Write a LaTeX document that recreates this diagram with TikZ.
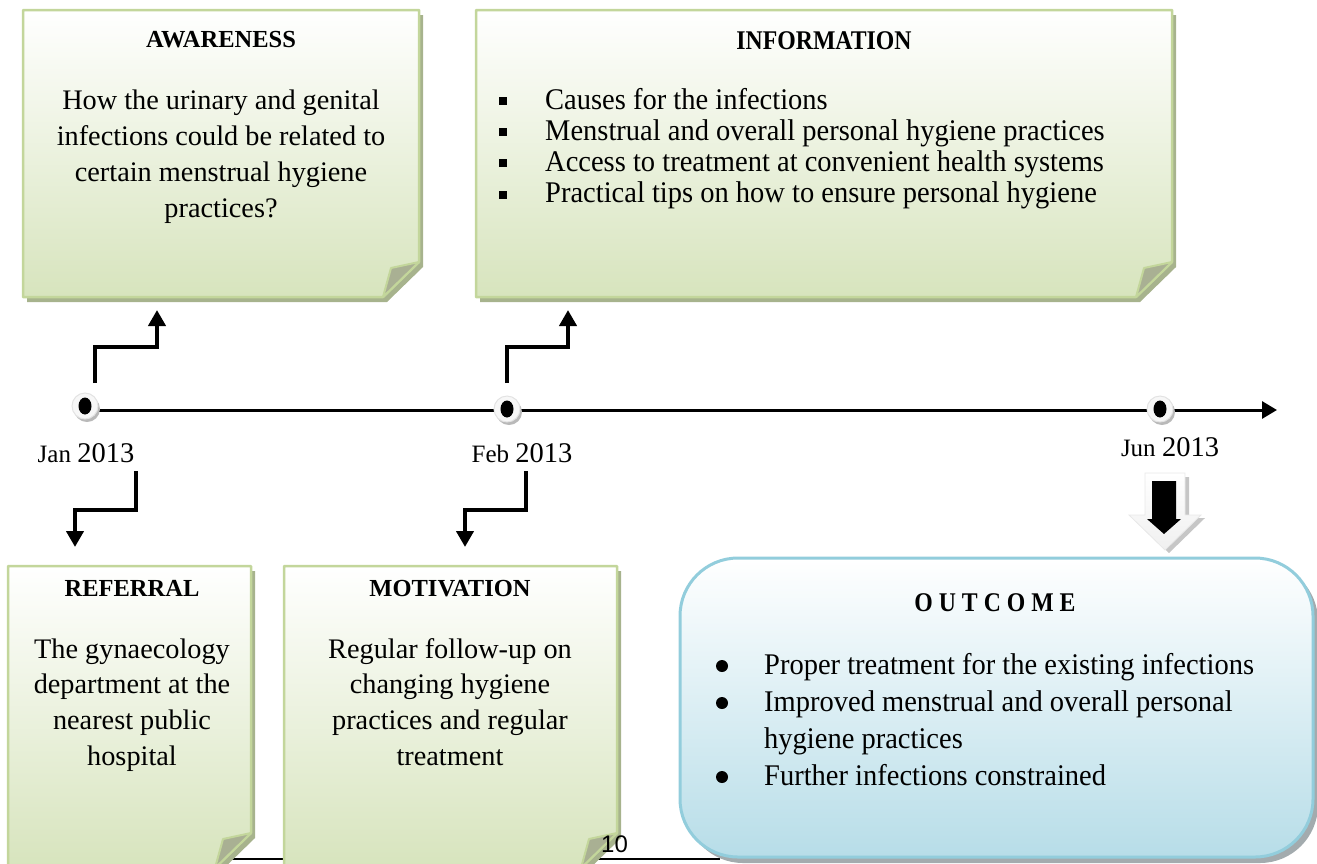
\documentclass[tikz,border=0pt]{standalone}
\usepackage{fontspec}
\setmainfont{Liberation Serif}
\newfontfamily\condfont{Liberation Serif}[FakeStretch=0.95]
\newfontfamily\condtitlefont{Liberation Serif}[FakeStretch=0.88]
\newfontfamily\pagenumfont{Liberation Sans}
\usetikzlibrary{arrows.meta}

\definecolor{notefill}{HTML}{D7E4BD}
\definecolor{noteborder}{HTML}{C3D69B}
\definecolor{noteshadow}{HTML}{A7B38D}
\definecolor{noteflap}{HTML}{A9B093}
\definecolor{outfill}{HTML}{B7DDE8}
\definecolor{outmid}{HTML}{E2F1F5}
\definecolor{outborder}{HTML}{92CDDC}
\definecolor{outshadow}{HTML}{A3ABAE}

\tikzset{
  titletext/.style={font=\bfseries\fontsize{24.5}{28}\selectfont, anchor=base, inner sep=0pt},
  condtitle/.style={font=\condtitlefont\bfseries\fontsize{27}{30}\selectfont, anchor=base, inner sep=0pt},
  bodytext/.style={anchor=base, inner sep=0pt},
  listtext/.style={anchor=base west, inner sep=0pt},
  datetext/.style={anchor=base, inner sep=0pt},
  bentarrow/.style={line width=4pt, -{Triangle[width=17pt,length=16pt]}},
  timearrow/.style={line width=3pt, -{Triangle[width=17pt,length=15pt]}},
  roundbullet/.style={fill=black},
}

% sticky note with a folded lower right corner: left, top, right, bottom
\newcommand\stickynote[4]{%
  \fill[noteshadow] (#1+4,#2+5) -- (#3+4,#2+5) -- (#3+4,#4-30) -- (#3-32,#4+5) -- (#1+4,#4+5) -- cycle;
  \path[draw=noteborder, line width=2.5pt, line join=round, top color=white, bottom color=notefill]
    (#1,#2) -- (#3,#2) -- (#3,#4-35) -- (#3-36,#4) -- (#1,#4) -- cycle;
  \filldraw[fill=noteflap, draw=noteborder, line width=2pt, line join=round]
    (#3,#4-35) -- (#3-28,#4-29) -- (#3-36,#4) -- cycle;
}

% milestone marker on the time line: name, x, y
\newcommand\timemark[3]{%
  \fill[gray!55] (#2+2,#3+3) circle[radius=13pt];
  \filldraw[fill=gray!6, draw=gray!22, line width=1pt] (#2,#3) circle[radius=13pt];
  \fill[black] (#2,#3) ellipse[x radius=6.5pt, y radius=8.5pt];
  \coordinate (#1) at (#2,#3);
}

\newcommand\sqbul{\makebox[46pt][l]{\rule[4pt]{8pt}{8pt}}}

\begin{document}
\begin{tikzpicture}[x=1pt,y=-1pt]
\useasboundingbox (0,0) rectangle (1317,863);
\clip (0,0) rectangle (1317,863);

% footer rule behind the notes
\coordinate (ruleL) at (200,859);
\coordinate (ruleR) at (720,859);
\draw[line width=1.5pt] (ruleL) -- (ruleR);

% notes
\stickynote{23}{10}{419}{297}
\stickynote{476}{10}{1172}{297}
\stickynote{8}{566}{251}{868}
\stickynote{284}{566}{617}{868}

% outcome panel
\fill[outshadow, rounded corners=58pt] (685,563) rectangle (1318,863);
\path[draw=outborder, line width=3pt, rounded corners=58pt, top color=white, middle color=outmid, bottom color=outfill]
  (680,558) rectangle (1313,857);

% time line
\coordinate (lineStart) at (85,410);
\coordinate (lineEnd) at (1277,410);
\draw[timearrow] (lineStart) -- (lineEnd);
\timemark{janMark}{85}{406}
\timemark{febMark}{507}{409}
\timemark{junMark}{1160}{409}

% bent arrows from the milestones to the notes
\coordinate (janUp) at (95,383);
\coordinate (awarenessIn) at (157,310);
\coordinate (janDown) at (136,471);
\coordinate (referralIn) at (75,547);
\coordinate (febUp) at (507,383);
\coordinate (informationIn) at (568,310);
\coordinate (febDown) at (526,471);
\coordinate (motivationIn) at (465,547);
\draw[bentarrow] (janUp) -- ++(0,-36) -| (awarenessIn);
\draw[bentarrow] (febUp) -- ++(0,-36) -| (informationIn);
\draw[bentarrow] (janDown) -- ++(0,39) -| (referralIn);
\draw[bentarrow] (febDown) -- ++(0,39) -| (motivationIn);

% block arrow towards the outcome
\fill[gray!45] (1149,477) -- (1189,477) -- (1189,518) -- (1205,518) -- (1169,553) -- (1133,518) -- (1149,518) -- cycle;
\path[draw=gray!18, line width=0.8pt, top color=white, bottom color=gray!12] (1145,473) -- (1185,473) -- (1185,515) -- (1201,515) -- (1165,550) -- (1129,515) -- (1145,515) -- cycle;
\fill[black] (1152,481) -- (1176,481) -- (1176,519) -- (1181,519) -- (1164,534) -- (1147,519) -- (1152,519) -- cycle;
\coordinate (outcomeArrow) at (1165,550);

% dates
\node[datetext] (janLabel) at (86,462) {{\fontsize{25}{25}\selectfont Jan }{\fontsize{28.5}{28}\selectfont 2013}};
\node[datetext] (febLabel) at (522,462) {{\fontsize{25}{25}\selectfont Feb }{\fontsize{28.5}{28}\selectfont 2013}};
\node[datetext] (junLabel) at (1170,456) {{\fontsize{25}{25}\selectfont Jun }{\fontsize{28.5}{28}\selectfont 2013}};

% note texts
\node[titletext] (awarenessTitle) at (221,47) {AWARENESS};
\node[bodytext] (awarenessText) at (221,109) {\parbox[t]{380pt}{\centering\fontsize{28.3}{36}\selectfont
  How the urinary and genital\\ infections could be related to\\ certain menstrual hygiene\\ practices?}};

\node[condtitle] (informationTitle) at (824,49) {INFORMATION};
\node[listtext] (informationText) at (499,109) {\parbox[t]{660pt}{\condfont\fontsize{30}{31.2}\selectfont
  \sqbul Causes for the infections\\
  \sqbul Menstrual and overall personal hygiene practices\\
  \sqbul Access to treatment at convenient health systems\\
  \sqbul Practical tips on how to ensure personal hygiene}};

\node[titletext] (referralTitle) at (132,596) {REFERRAL};
\node[bodytext] (referralText) at (132,658) {\parbox[t]{240pt}{\centering\fontsize{28.3}{35.7}\selectfont
  The gynaecology\\ department at the\\ nearest public\\ hospital}};

\node[titletext] (motivationTitle) at (450,596) {MOTIVATION};
\node[bodytext] (motivationText) at (450,658) {\parbox[t]{320pt}{\centering\fontsize{28.3}{35.7}\selectfont
  Regular follow-up on\\ changing hygiene\\ practices and regular\\ treatment}};

\node[condtitle] (outcomeTitle) at (995,611) {O U T C O M E};
\node[listtext] (outcomeText) at (764,674) {\parbox[t]{540pt}{\condfont\fontsize{30}{37}\selectfont
  Proper treatment for the existing infections\\
  Improved menstrual and overall personal\\
  hygiene practices\\
  Further infections constrained}};
% round list bullets of the outcome panel
\fill[roundbullet] (722,666) circle[radius=6pt];
\fill[roundbullet] (722,703) circle[radius=6pt];
\fill[roundbullet] (722,777) circle[radius=6pt];

% page number
\node[font=\pagenumfont\fontsize{24}{24}\selectfont, anchor=base west, inner sep=0pt] (pageNum) at (601,852) {10};
\end{tikzpicture}
\end{document}
